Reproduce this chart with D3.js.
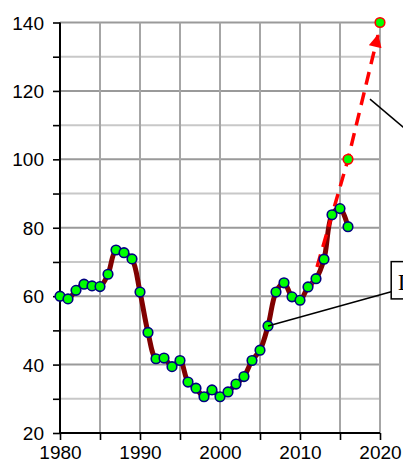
<!DOCTYPE html>
<html>
<head>
<meta charset="utf-8">
<script src="https://cdn.jsdelivr.net/npm/d3@7"></script>
<style>
  html, body { margin: 0; padding: 0; background: #fff; overflow: hidden; }
  svg { display: block; }
</style>
</head>
<body>
<div id="chart"></div>
<script>
// observed series (1980-2016)
const years = [1980, 1981, 1982, 1983, 1984, 1985, 1986, 1987, 1988, 1989,
               1990, 1991, 1992, 1993, 1994, 1995, 1996, 1997, 1998, 1999,
               2000, 2001, 2002, 2003, 2004, 2005, 2006, 2007, 2008, 2009,
               2010, 2011, 2012, 2013, 2014, 2015, 2016];
const values = [60.0, 59.2, 61.7, 63.5, 63.0, 62.8, 66.4, 73.5, 72.7, 70.9,
                61.2, 49.4, 41.7, 41.9, 39.4, 41.2, 34.9, 33.1, 30.6, 32.6,
                30.6, 32.0, 34.3, 36.5, 41.2, 44.2, 51.3, 61.2, 63.9, 59.8,
                58.8, 62.7, 65.1, 70.8, 83.8, 85.6, 80.3];

// projection
const trendYears = [2011.4, 2016, 2019.75];
const trendValues = [62.6, 100, 136.3];
const forecastYears = [2016, 2020];
const forecastValues = [100, 140];

// axes
const xTicks = [1980, 1985, 1990, 1995, 2000, 2005, 2010, 2015, 2020];
const xLabels = [1980, 1990, 2000, 2010, 2020];
const yTicks = [20, 30, 40, 50, 60, 70, 80, 90, 100, 110, 120, 130, 140];
const yLabels = [20, 40, 60, 80, 100, 120, 140];

const W = 403, H = 466;
const margin = { top: 22.5, right: 23, bottom: 33, left: 60 };

const svg = d3.select("#chart").append("svg")
    .attr("width", W)
    .attr("height", H);

const x = d3.scaleLinear().domain([1980, 2020]).range([margin.left, W - margin.right]);
const y = d3.scaleLinear().domain([20, 140]).range([H - margin.bottom, margin.top]);

const defs = svg.append("defs");
defs.append("marker")
    .attr("id", "arrow")
    .attr("viewBox", "0 0 12 12")
    .attr("refX", 11)
    .attr("refY", 6)
    .attr("markerWidth", 15)
    .attr("markerHeight", 13)
    .attr("markerUnits", "userSpaceOnUse")
    .attr("orient", "auto")
    .append("path")
    .attr("d", "M0,0 L12,6 L0,12 Z")
    .attr("fill", "#ff0000");

// grid
const grid = svg.append("g");
grid.selectAll("line.h")
    .data(yTicks.filter(d => d > 20))
    .enter().append("line")
    .attr("x1", x(1980)).attr("x2", x(2020))
    .attr("y1", d => y(d)).attr("y2", d => y(d))
    .attr("stroke", d => d % 20 === 0 ? "#9a9a9a" : "#c8c8c8")
    .attr("stroke-width", 2);
grid.selectAll("line.v")
    .data(xTicks.filter(d => d > 1980))
    .enter().append("line")
    .attr("x1", d => x(d)).attr("x2", d => x(d))
    .attr("y1", y(20)).attr("y2", y(140))
    .attr("stroke", "#a6a6a6")
    .attr("stroke-width", 2);

// axes
const xAxis = d3.axisBottom(x)
    .tickValues(xTicks)
    .tickSize(7)
    .tickFormat(d => xLabels.includes(d) ? d : "");
const yAxis = d3.axisLeft(y)
    .tickValues(yTicks)
    .tickSize(7)
    .tickFormat(d => yLabels.includes(d) ? d : "");

const gx = svg.append("g")
    .attr("transform", `translate(0,${y(20)})`)
    .call(xAxis);
const gy = svg.append("g")
    .attr("transform", `translate(${x(1980)},0)`)
    .call(yAxis);

[gx, gy].forEach(g => {
    g.select(".domain").attr("stroke", "#000").attr("stroke-width", 2);
    g.selectAll(".tick line").attr("stroke", "#000").attr("stroke-width", 1.6);
    g.selectAll(".tick text")
        .attr("fill", "#000")
        .style("font-family", "'Liberation Sans', Arial, sans-serif")
        .style("font-size", "19px");
});
gx.select(".domain").attr("d", `M${x(1980)},0H${x(2020)}`);
gy.select(".domain").attr("d", `M0,${y(20)}V${y(140)}`);
gx.selectAll(".tick text").attr("dy", "0.95em").attr("y", 8);
gy.selectAll(".tick text").attr("x", -16).attr("dy", "0.35em");

// observed line
const data = years.map((yr, i) => ({ yr, v: values[i] }));
const line = d3.line()
    .x(d => x(d.yr))
    .y(d => y(d.v))
    .curve(d3.curveCatmullRom.alpha(0.5));

svg.append("path")
    .datum(data)
    .attr("fill", "none")
    .attr("stroke", "#800000")
    .attr("stroke-width", 5)
    .attr("stroke-linejoin", "round")
    .attr("d", line);

// projection arrow
const trend = trendYears.map((yr, i) => ({ yr, v: trendValues[i] }));
svg.append("path")
    .datum(trend)
    .attr("fill", "none")
    .attr("stroke", "#ff0000")
    .attr("stroke-width", 3.5)
    .attr("stroke-dasharray", "13,8")
    .attr("marker-end", "url(#arrow)")
    .attr("d", d3.line().x(d => x(d.yr)).y(d => y(d.v)));

// markers
svg.append("g").selectAll("circle")
    .data(data)
    .enter().append("circle")
    .attr("cx", d => x(d.yr))
    .attr("cy", d => y(d.v))
    .attr("r", 4.8)
    .attr("fill", "#00ff00")
    .attr("stroke", "#000080")
    .attr("stroke-width", 1.6);

svg.append("g").selectAll("circle")
    .data(forecastYears.map((yr, i) => ({ yr, v: forecastValues[i] })))
    .enter().append("circle")
    .attr("cx", d => x(d.yr))
    .attr("cy", d => y(d.v))
    .attr("r", 4.8)
    .attr("fill", "#00ff00")
    .attr("stroke", "#ff0000")
    .attr("stroke-width", 1.6);

// callouts
svg.append("line")
    .attr("x1", x(2006)).attr("y1", y(51.3))
    .attr("x2", x(2021.4)).attr("y2", y(61.3))
    .attr("stroke", "#000").attr("stroke-width", 1.5);
svg.append("line")
    .attr("x1", x(2018.75)).attr("y1", y(117.6))
    .attr("x2", x(2023.5)).attr("y2", y(108.2))
    .attr("stroke", "#000").attr("stroke-width", 1.5);

const boxX = x(2021.4);
svg.append("rect")
    .attr("x", boxX)
    .attr("y", y(70.1))
    .attr("width", 60)
    .attr("height", y(59.2) - y(70.1))
    .attr("fill", "#fff")
    .attr("stroke", "#000")
    .attr("stroke-width", 1.5);
svg.append("text")
    .attr("x", boxX + 6.5)
    .attr("y", y(61.8))
    .style("font-family", "'Liberation Serif', 'Times New Roman', serif")
    .style("font-size", "23px")
    .attr("fill", "#000")
    .text("I");
</script>
</body>
</html>
